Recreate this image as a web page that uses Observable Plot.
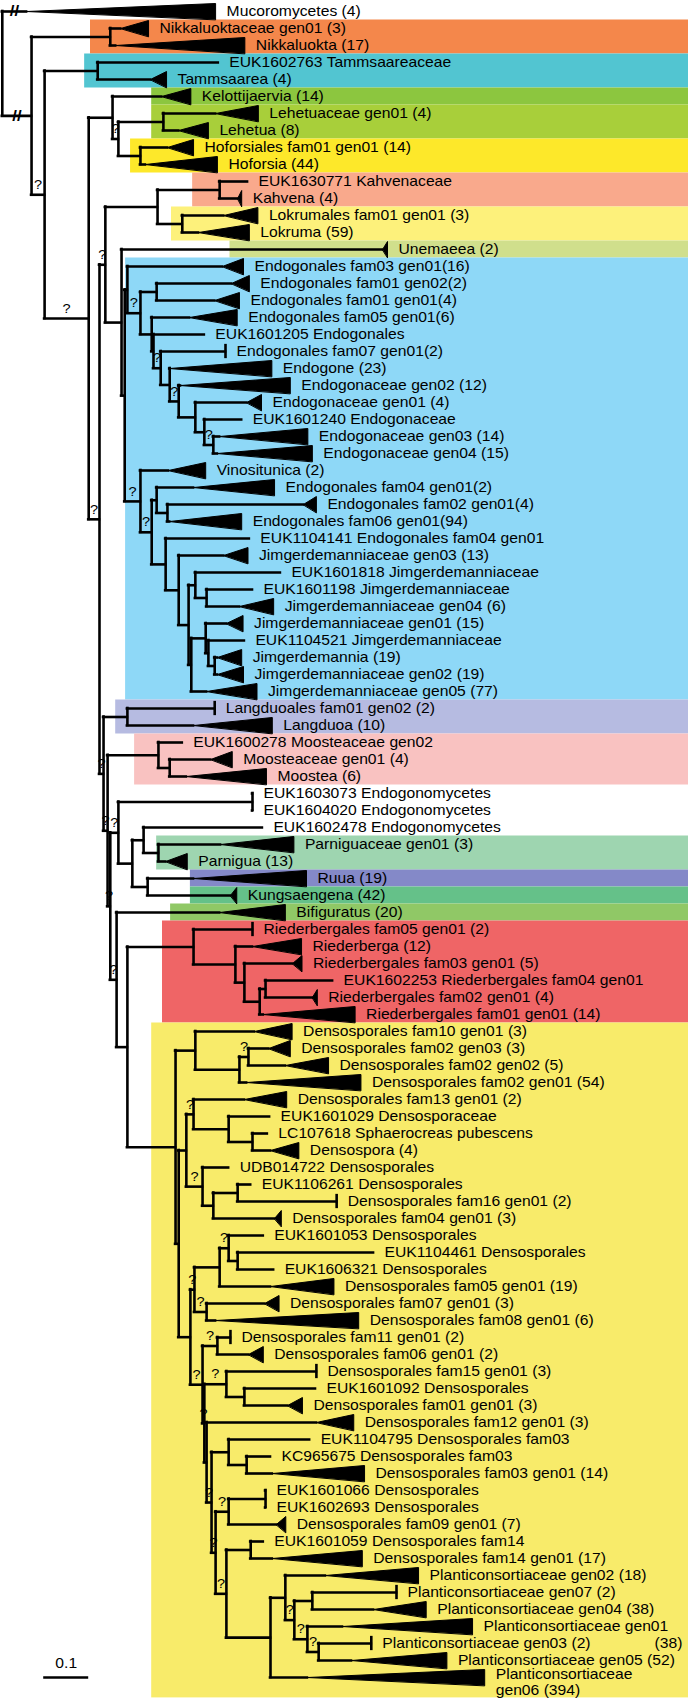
<!DOCTYPE html>
<html><head><meta charset="utf-8">
<script src="https://cdn.jsdelivr.net/npm/d3@7"></script>
<script src="https://cdn.jsdelivr.net/npm/@observablehq/plot@0.6"></script>
<style>html,body{margin:0;padding:0;background:#fff}</style>
</head><body><div id="chart"></div>
<script>
// ---- leaf labels (row order top to bottom)
const leafLabels = [
"Mucoromycetes (4)","Nikkaluoktaceae gen01 (3)","Nikkaluokta (17)","EUK1602763 Tammsaareaceae","Tammsaarea (4)",
"Kelottijaervia (14)","Lehetuaceae gen01 (4)","Lehetua (8)","Hoforsiales fam01 gen01 (14)","Hoforsia (44)",
"EUK1630771 Kahvenaceae","Kahvena (4)","Lokrumales fam01 gen01 (3)","Lokruma (59)","Unemaeea (2)",
"Endogonales fam03 gen01(16)","Endogonales fam01 gen02(2)","Endogonales fam01 gen01(4)","Endogonales fam05 gen01(6)","EUK1601205 Endogonales",
"Endogonales fam07 gen01(2)","Endogone (23)","Endogonaceae gen02 (12)","Endogonaceae gen01 (4)","EUK1601240 Endogonaceae",
"Endogonaceae gen03 (14)","Endogonaceae gen04 (15)","Vinositunica (2)","Endogonales fam04 gen01(2)","Endogonales fam02 gen01(4)",
"Endogonales fam06 gen01(94)","EUK1104141 Endogonales fam04 gen01","Jimgerdemanniaceae gen03 (13)","EUK1601818 Jimgerdemanniaceae","EUK1601198 Jimgerdemanniaceae",
"Jimgerdemanniaceae gen04 (6)","Jimgerdemanniaceae gen01 (15)","EUK1104521 Jimgerdemanniaceae","Jimgerdemannia (19)","Jimgerdemanniaceae gen02 (19)",
"Jimgerdemanniaceae gen05 (77)","Langduoales fam01 gen02 (2)","Langduoa (10)","EUK1600278 Moosteaceae gen02","Moosteaceae gen01 (4)",
"Moostea (6)","EUK1603073 Endogonomycetes","EUK1604020 Endogonomycetes","EUK1602478 Endogonomycetes","Parniguaceae gen01 (3)",
"Parnigua (13)","Ruua (19)","Kungsaengena (42)","Bifiguratus (20)","Riederbergales fam05 gen01 (2)",
"Riederberga (12)","Riederbergales fam03 gen01 (5)","EUK1602253 Riederbergales fam04 gen01","Riederbergales fam02 gen01 (4)","Riederbergales fam01 gen01 (14)",
"Densosporales fam10 gen01 (3)","Densosporales fam02 gen03 (3)","Densosporales fam02 gen02 (5)","Densosporales fam02 gen01 (54)","Densosporales fam13 gen01 (2)",
"EUK1601029 Densosporaceae","LC107618 Sphaerocreas pubescens","Densospora (4)","UDB014722 Densosporales","EUK1106261 Densosporales",
"Densosporales fam16 gen01 (2)","Densosporales fam04 gen01 (3)","EUK1601053 Densosporales","EUK1104461 Densosporales","EUK1606321 Densosporales",
"Densosporales fam05 gen01 (19)","Densosporales fam07 gen01 (3)","Densosporales fam08 gen01 (6)","Densosporales fam11 gen01 (2)","Densosporales fam06 gen01 (2)",
"Densosporales fam15 gen01 (3)","EUK1601092 Densosporales","Densosporales fam01 gen01 (3)","Densosporales fam12 gen01 (3)","EUK1104795 Densosporales fam03",
"KC965675 Densosporales fam03","Densosporales fam03 gen01 (14)","EUK1601066 Densosporales","EUK1602693 Densosporales","Densosporales fam09 gen01 (7)",
"EUK1601059 Densosporales fam14","Densosporales fam14 gen01 (17)","Planticonsortiaceae gen02 (18)","Planticonsortiaceae gen07 (2)","Planticonsortiaceae gen04 (38)",
"Planticonsortiaceae gen01","Planticonsortiaceae gen03 (2)","Planticonsortiaceae gen05 (52)","Planticonsortiaceae\ngen06 (394)"
];
// wrapped remainder of a long label: [leaf index, text]
const labelTails = [[95, "(38)"]];

// depth of each collapsed clade (triangle length); 0 = identical sequences (bar); null = single sequence
const collapsedDepth = [
0.420,0.062,0.287,null,0.036, 0.065,0.095,0.066,0.058,0.160,
null,0.009,0.076,0.113,0.011, 0.047,0.040,0.055,0.106,null,
0,0.227,0.244,0.033,null, 0.196,0.211,0.083,0.180,0.029,
0.160,null,0.054,null,null, 0.076,0.037,null,0.054,0.058,
0.112,0,0.175,null,0.048, 0.178,null,null,null,0.163,
0.048,0.251,0.014,0.146,0, 0.109,0.021,null,0.011,0.204,
0.084,0.048,0.096,0.254,0.094, null,null,0.063,null,null,
0,0.015,null,null,null, 0.141,0.032,0.318,0,0.033,
0,null,0.033,0.083,null, null,0.205,null,null,0.021,
null,0.200,0.207,0,0.117, 0.289,0,0.212,0.394
];

// ---- tree topology: leaves are row indices; numbers after ":" are distances from the root; "q" = uncertain node ("?")
const nwLehHof = "(5:0.358,((6:0.478,7:0.396):0.362,(8:0.371,9:0.322):0.311)q:0.262):0.249";
const nwKahLok = "((10:0.549,11:0.527):0.487,(12:0.496,13:0.440):0.404):0.349";
const nwEndoUp = "(15:0.493,((16:0.513,17:0.476):0.347,(18:0.420,(19:0.453,(20:0.500,(21:0.376,(22:0.400,(23:0.547,(24:0.536,(25:0.487,26:0.482)q:0.473):0.453):0.433)q:0.396):0.376)q:0.356):0.340):0.336)q:0.311):0.282";
const nwJim = "(31:0.553,(32:0.496,((33:0.622,(34:0.560,35:0.531):0.458):0.433,((36:0.502,(37:0.542,(38:0.482,39:0.482):0.476):0.462):0.456,40:0.458):0.424):0.418):0.396):0.367";
const nwEndoLow = `(27:0.373,((28:0.429,(29:0.673,30:0.376):0.371):0.347,${nwJim})q:0.336)q:0.311`;
const nwUpperB = `(${nwKahLok},(14:0.849,(${nwEndoUp},${nwEndoLow}):0.276):0.269)q:0.233`;
const nwMid = "((46:0.560,47:0.560):0.560,((48:0.582,(49:0.489,50:0.367):0.351):0.318,(51:0.429,52:0.511):0.327):0.293)q:0.262";
const nwRieder = "(54:0.560,(55:0.560,(56:0.649,((57:0.738,58:0.693):0.589,59:0.584):0.576):0.542):0.522):0.429";
const nwDensA = "(60:0.564,((61:0.596,62:0.633)q:0.551,63:0.547):0.531):0.433";
const nwDensB = "((64:0.542,(65:0.598,(66:0.593,67:0.600):0.560):0.507)q:0.429,(68:0.507,((69:0.556,70:0.747):0.527,71:0.609):0.473)q:0.449):0.413";
const nwDensC = "(((72:0.584,(73:0.829,74:0.607):0.527)q:0.507,75:0.600):0.487,(76:0.587,77:0.478)q:0.458)q:0.431";
const nwPlanti = "((92:0.722,((93:0.880,94:0.829):0.693,(95:0.760,(96:0.824,97:0.780)q:0.707)q:0.682)q:0.653):0.633,98:0.682):0.600";
const nwDensD = `((78:0.511,79:0.551)q:0.482,((80:0.702,(81:0.700,82:0.638):0.542)q:0.502,(83:0.702,((84:0.687,(85:0.600,86:0.604):0.547):0.507,(((87:0.589,88:0.589):0.589,89:0.613)q:0.507,((90:0.584,91:0.604):0.556,${nwPlanti})q:0.502)q:0.478)q:0.469):0.458)q:0.453)q:0.449`;
const nwDens = `(${nwDensA},(${nwDensB},(${nwDensC},${nwDensD}):0.422):0.396):0.389`;
const nwLower = `((41:0.476,42:0.429):0.282,((43:0.404,(44:0.467,45:0.413):0.376):0.351,(${nwMid},(53:0.487,(${nwRieder},${nwDens}):0.282)q:0.258)q:0.244)q:0.238)q:0.229`;
const treeNewick = `(0:0.058,((1:0.267,2:0.256):0.244,((3:0.484,4:0.333):0.216,(${nwLehHof},(${nwUpperB},${nwLower})q:0.220)q:0.196)q:0.098):0.069):0.004`;

// ---- highlighted clades
const bandColors = ["#f4874b","#52c5d1","#8cc63f","#a8cf3a","#fde82a","#f9a98c","#fdf17b","#d0df8c","#8ed8f7","#b6bbe1","#f9c2c1","#9ed5b0","#8489c8","#65c189","#90c866","#ef6566","#f8eb6a"];
const bandFirst  = [1,3,5,6,8,10,12,14,15,41,43,49,51,52,53,54,60];
const bandLast   = [2,4,5,7,9,11,13,14,40,42,45,50,51,52,53,59,98.7];
const bandStart  = [0.200,0.187,0.336,0.336,0.289,0.427,0.380,0.510,0.278,0.256,0.298,0.347,0.422,0.422,0.378,0.360,0.336];

const scaleBar = {start: 0.096, length: 0.1, label: "0.1", row: 98};

// ---- parse & layout
function parseNewick(str) {
  const s = str.replace(/\s+/g, "");
  let i = 0;
  function read() {
    const node = {children: []};
    if (s[i] === "(") {
      i++;
      node.children.push(read());
      while (s[i] === ",") { i++; node.children.push(read()); }
      i++;
    }
    let name = "";
    while (i < s.length && !":,()".includes(s[i])) name += s[i++];
    node.name = name;
    if (s[i] === ":") {
      i++;
      let num = "";
      while (i < s.length && !",()".includes(s[i])) num += s[i++];
      node.depth = +num;
    }
    return node;
  }
  return read();
}
const root = parseNewick(treeNewick);
const leaves = [], vBranches = [], hBranches = [], qMarks = [], breaks = [];
(function place(n) {
  if (n.children.length) {
    n.children.forEach(place);
    const a = n.children[0].y, b = n.children[n.children.length - 1].y;
    n.y = (a + b) / 2;
    vBranches.push({x: n.depth, y1: a, y2: b});
  } else {
    n.leaf = +n.name; n.y = n.leaf; leaves.push(n);
  }
})(root);
(function link(n, p) {
  if (p) {
    hBranches.push({x1: p.depth, x2: n.depth, y: n.y});
    if (n.name === "q") qMarks.push({x: (p.depth + n.depth) / 2, y: n.y});
    if (p === root) breaks.push({x: (p.depth + n.depth) / 2, y: n.y});
  }
  n.children.forEach(c => link(c, n));
})(root, null);

const tri = [], bars = [], labels = [];
leaves.forEach(l => {
  const len = collapsedDepth[l.leaf];
  if (len > 0) {
    tri.push({id: l.leaf, x: l.depth, y: l.y});
    tri.push({id: l.leaf, x: l.depth + len, y: l.y - 0.47});
    tri.push({id: l.leaf, x: l.depth + len, y: l.y + 0.47});
  } else if (len === 0) {
    bars.push({x: l.depth, y1: l.y - 0.42, y2: l.y + 0.42});
  }
  labels.push({x: l.depth + (len || 0), y: l.y, text: leafLabels[l.leaf]});
});
const single = labels.filter(d => !d.text.includes("\n"));
const multi = labels.filter(d => d.text.includes("\n"));
const tails = labelTails.map(([k, t]) => ({y: k + 1, text: t}));
const bands = bandColors.map((c, i) => ({color: c, y1: bandFirst[i] - 0.5, y2: bandLast[i] + 0.5, x1: bandStart[i]}));

const W = 688, H = 1700, pxPerUnit = 450;
const xMax = W / pxPerUnit;
const rowPx = 17, firstRowPx = 11;
const yMin = -firstRowPx / rowPx, yMax = (H - firstRowPx) / rowPx;
const lw = 2.6;

const svg = Plot.plot({
  width: W, height: H, margin: 0,
  style: {fontFamily: "'Liberation Sans', Arial, Helvetica, sans-serif", fontSize: "14px", background: "white", color: "black"},
  x: {domain: [0, xMax], axis: null},
  y: {domain: [yMin, yMax], reverse: true, axis: null},
  color: {type: "identity"},
  marks: [
    Plot.rect(bands, {x1: "x1", x2: () => xMax, y1: "y1", y2: "y2", fill: "color"}),
    Plot.ruleX(vBranches, {x: "x", y1: "y1", y2: "y2", stroke: "black", strokeWidth: lw, strokeLinecap: "square"}),
    Plot.ruleY(hBranches, {y: "y", x1: "x1", x2: "x2", stroke: "black", strokeWidth: lw, strokeLinecap: "square"}),
    Plot.line(tri, {x: "x", y: "y", z: "id", fill: "black", stroke: "black", strokeWidth: 1, curve: "linear-closed"}),
    Plot.ruleX(bars, {x: "x", y1: "y1", y2: "y2", stroke: "black", strokeWidth: lw}),
    Plot.text(breaks, {x: "x", y: "y", text: () => "//", fontSize: 15, fontWeight: "bold", fill: "black"}),
    Plot.text(qMarks, {x: "x", y: "y", text: () => "?", dy: -10, fontSize: 13, fill: "black"}),
    Plot.text(single, {x: "x", y: "y", text: "text", textAnchor: "start", dx: 11, fontSize: 14, fill: "black"}),
    Plot.text(multi, {x: "x", y: "y", text: "text", textAnchor: "start", dx: 11, dy: 4, lineHeight: 1.15, fontSize: 14, fill: "black"}),
    Plot.text(tails, {frameAnchor: "right", y: "y", text: "text", textAnchor: "end", dx: -6, fontSize: 14, fill: "black"}),
    Plot.ruleY([scaleBar], {y: "row", x1: "start", x2: d => d.start + d.length, stroke: "black", strokeWidth: lw}),
    Plot.text([scaleBar], {x: d => d.start + d.length / 2, y: "row", text: "label", dy: -14, fontSize: 14, fill: "black"})
  ]
});
// the original lettering is horizontally wide: stretch text glyphs around their anchor
const sx = 1.12;
svg.querySelectorAll("text").forEach(t => {
  const x = parseFloat(t.getAttribute("x")) || 0;
  const tr = t.getAttribute("transform") || "";
  t.setAttribute("transform", `${tr} translate(${x},0) scale(${sx},1) translate(${-x},0)`);
});
document.getElementById("chart").appendChild(svg);
</script>
</body></html>
